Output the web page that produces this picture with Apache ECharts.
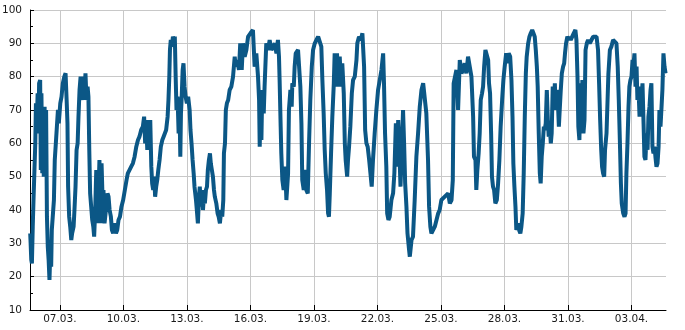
<!DOCTYPE html>
<html><head><meta charset="utf-8">
<script src="https://cdn.jsdelivr.net/npm/echarts@6/dist/echarts.min.js"></script>
<style>html,body{margin:0;padding:0;background:#fff}#c{width:685px;height:330px}</style>
</head><body><div id="c"></div>
<script>
// time as decimal day counted from 1 March (07.03. 00:00 = 7, 03.04. = 34)
const times = [
5.60,5.62,5.65,5.68,5.72,5.76,5.80,5.84,5.87,5.91,
5.95,5.99,6.02,6.07,6.10,6.13,6.17,6.20,6.24,6.28,
6.31,6.35,6.39,6.43,6.47,6.51,6.56,6.59,6.62,6.67,
6.72,6.76,6.81,6.86,6.91,6.95,7.02,7.08,7.14,7.21,
7.27,7.32,7.36,7.39,7.44,7.49,7.54,7.58,7.65,7.69,
7.74,7.79,7.84,7.88,7.93,7.98,8.02,8.07,8.12,8.17,
8.21,8.26,8.31,8.35,8.39,8.43,8.48,8.53,8.58,8.62,
8.67,8.72,8.75,8.78,8.83,8.87,8.92,8.97,9.02,9.06,
9.11,9.16,9.21,9.25,9.30,9.35,9.41,9.46,9.52,9.58,
9.65,9.71,9.77,9.84,9.91,9.99,10.07,10.15,10.21,10.29,
10.37,10.45,10.53,10.61,10.69,10.76,10.84,10.92,10.98,11.03,
11.08,11.13,11.17,11.22,11.27,11.32,11.36,11.41,11.46,11.50,
11.55,11.60,11.65,11.71,11.77,11.84,11.90,11.96,12.02,12.09,
12.13,12.17,12.20,12.24,12.29,12.34,12.39,12.43,12.47,12.51,
12.56,12.61,12.65,12.69,12.72,12.75,12.80,12.84,12.89,12.94,
13.00,13.06,13.13,13.17,13.22,13.27,13.32,13.36,13.43,13.47,
13.52,13.57,13.61,13.66,13.71,13.76,13.80,13.85,13.90,13.95,
13.99,14.04,14.09,14.13,14.18,14.23,14.28,14.32,14.39,14.45,
14.50,14.56,14.62,14.67,14.72,14.75,14.80,14.84,14.89,14.95,
15.02,
15.10,15.18,15.26,15.30,15.37,15.46,15.52,15.59,15.65,15.73,
15.81,15.89,16.00,16.12,16.20,16.28,16.36,16.41,16.44,16.49,
16.52,16.56,16.63,16.67,16.75,16.83,16.91,16.99,17.07,17.15,
17.23,17.30,17.35,17.38,17.43,17.46,17.51,17.57,17.64,17.70,
17.78,17.82,17.89,17.95,17.98,18.05,18.09,18.14,18.25,18.33,
18.36,18.41,18.45,18.52,18.58,18.64,18.71,18.77,18.83,18.90,
18.96,19.04,19.12,19.20,19.27,19.35,19.40,19.46,19.51,19.56,
19.62,19.67,19.71,19.75,19.81,19.87,19.94,19.98,20.03,20.09,
20.16,20.22,20.28,20.34,20.41,20.46,20.50,20.57,20.61,20.66,
20.72,20.79,20.85,20.93,21.01,21.05,21.13,21.21,21.29,21.37,
21.42,21.48,21.54,21.61,21.67,21.73,21.79,21.87,21.95,22.03,
22.11,22.19,22.27,22.31,22.36,22.42,22.46,22.52,22.58,22.66,
22.74,22.80,22.87,22.93,22.98,23.02,23.09,23.15,23.21,23.26,
23.31,23.37,23.42,23.48,23.53,23.61,23.68,23.76,23.84,23.92,
24.00,24.08,24.16,24.24,24.31,24.39,24.44,24.50,24.55,24.63,
24.71,24.79,24.87,24.94,25.02,25.10,25.18,25.26,25.34,25.42,
25.50,25.56,25.60,
25.73,25.81,25.89,25.97,26.04,26.12,26.20,26.28,26.36,26.44,
26.52,26.56,26.63,26.67,26.72,26.78,26.83,26.88,26.94,26.99,
27.04,27.10,27.16,27.23,27.27,27.32,27.37,27.41,27.46,27.51,
27.57,27.64,27.70,27.76,27.82,27.89,27.95,28.01,28.08,28.14,
28.20,28.27,28.33,28.38,28.42,28.47,28.52,28.56,28.64,28.69,
28.75,28.80,28.86,28.91,28.96,29.01,29.05,29.12,29.18,29.24,
29.31,29.37,29.43,29.48,29.53,29.57,29.62,29.67,29.71,29.76,
29.81,29.86,29.90,29.95,30.00,30.05,30.09,30.14,30.19,30.23,
30.28,30.33,30.38,30.42,30.47,30.52,30.57,30.61,30.66,30.71,
30.77,30.82,30.86,30.91,30.97,31.04,31.09,31.13,31.20,31.27,
31.35,31.40,31.45,31.49,31.54,31.59,31.64,31.68,31.73,31.78,
31.83,31.89,31.95,32.03,32.11,32.19,32.27,32.35,32.42,32.47,
32.52,32.57,32.61,32.66,32.71,32.75,32.82,32.87,32.91,32.98,
33.05,33.13,33.21,33.29,33.35,33.40,33.45,33.50,33.54,33.61,
33.67,33.72,33.76,33.81,33.86,33.90,33.95,34.00,34.05,34.09,
34.14,34.19,34.24,34.28,34.33,34.38,34.42,34.47,34.52,34.57,
34.61,34.66,34.71,34.76,34.80,34.85,34.90,34.94,34.99,35.04,
35.09,35.13,35.18,35.23,35.28,35.32,35.37,35.42,35.46,35.51,
35.56,35.61
];
const values = [
33,30,25,24,35,44,52,60,72,65,
75,63,78,79,52,75,51,71,50,71,
50,70,38,29,25,19,30,23,34,34,
43,55,60,65,70,66,72,74,78,80,
81,73,66,47,38,35,31,33,35,40,
47,58,60,68,76,80,76,73,80,76,
81,73,77,74,58,45,41,37,35,32,
40,52,36,50,46,55,36,54,43,46,
36,39,42,45,44,40,38,34,33,36,
33,34,37,38,41,43,46,49,51,51,
53,54,56,59,61,62,64,65,68,60,
66,58,67,58,67,53,48,46,50,44,
47,49,52,55,59,61,62,62,64,68,
73,80,88,91,89,92,91,92,80,70,
74,63,71,56,69,73,82,84,77,74,
72,74,70,64,60,55,51,47,43,40,
36,44,47,41,46,40,44,42,46,47,
52,55,57,54,52,50,46,44,42,39,
38,36,40,38,43,57,60,70,72,73,
76,
77,80,86,83,85,82,90,82,90,86,
88,92,93,94,83,87,80,73,59,73,
61,76,69,77,90,88,91,88,88,90,
87,91,86,79,65,57,49,46,53,43,
51,70,76,71,78,77,83,87,88,88,
77,66,49,46,52,46,45,60,73,83,
88,90,91,92,92,89,79,69,58,51,
46,39,38,45,57,68,78,87,77,87,
77,86,77,84,75,60,55,50,55,59,
65,75,79,80,85,90,92,91,93,83,
64,60,59,55,51,47,55,63,70,76,
79,82,87,78,63,53,39,37,38,43,
45,51,66,53,67,61,47,58,70,60,
48,41,33,29,26,31,32,43,56,63,
71,76,78,78,69,55,41,35,33,33,
35,37,39,40,43,43,44,44,45,42,
43,49,78,
82,70,85,81,82,84,81,86,83,80,
68,56,55,46,52,57,63,73,75,77,
83,88,88,85,78,75,63,50,47,46,
42,43,48,55,65,73,79,83,87,84,
87,86,79,68,54,47,41,34,36,34,
33,35,39,51,68,81,86,90,92,93,
94,93,92,88,83,77,63,51,48,56,
60,65,64,66,76,67,62,65,60,63,
77,71,78,70,76,73,65,70,76,81,
83,84,87,90,92,91,92,91,92,93,
94,91,80,65,61,78,67,79,63,67,
88,90,91,90,91,92,92.5,92,88,78,
67,58,53,51,50,58,63,73,81,88,
89,91,91.5,90,83,73,61,48,42,39,
38,39,51,60,71,77,79,80,85,83,
87,77,83,73,77,68,76,73,78,66,
56,55,63,58,68,71,76,78,59,57,
59,56,53,54,59,70,65,71,76,87,
83,81
];
const tickDays = [7,10,13,16,19,22,25,28,31,34];
const tickLabels = ['07.03.','10.03.','13.03.','16.03.','19.03.','22.03.','25.03.','28.03.','31.03.','03.04.'];
const xStart = 5.59, xEnd = 35.63;
const yMin = 10, yMax = 100, yStep = 10;

const data = times.map((t, i) => [t, values[i]]);
const font = 'DejaVu Sans';
const chart = echarts.init(document.getElementById('c'), null, {renderer: 'canvas'});
chart.setOption({
  animation: false,
  grid: {left: 30, right: 19, top: 10, bottom: 20, containLabel: false, outerBoundsMode: 'none'},
  xAxis: {
    type: 'value', min: xStart, max: xEnd,
    axisLine: {show: true, lineStyle: {color: '#000', width: 1}},
    axisTick: {show: true, inside: true, length: 5, customValues: tickDays, lineStyle: {color: '#000'}},
    axisLabel: {customValues: tickDays, color: '#1a1a1a', fontFamily: font, fontSize: 10.5, margin: 4,
      formatter: v => tickLabels[tickDays.indexOf(Math.round(v))] || ''},
    splitLine: {show: true, lineStyle: {color: '#c8c8c8', width: 1}}
  },
  yAxis: {
    type: 'value', min: yMin, max: yMax, interval: yStep,
    axisLine: {show: true, lineStyle: {color: '#000', width: 1}},
    axisTick: {show: true, inside: true, length: 4, lineStyle: {color: '#000'}},
    minorTick: {show: true, splitNumber: 2, length: 3, lineStyle: {color: '#000'}},
    axisLabel: {color: '#1a1a1a', fontFamily: font, fontSize: 10.5, margin: 8},
    splitLine: {show: true, lineStyle: {color: '#c8c8c8', width: 1}}
  },
  series: [{
    type: 'line', data: data, showSymbol: false, symbol: 'none',
    lineStyle: {color: '#0b5786', width: 4, join: 'bevel', cap: 'butt'},
    clip: false
  }]
});
</script></body></html>
